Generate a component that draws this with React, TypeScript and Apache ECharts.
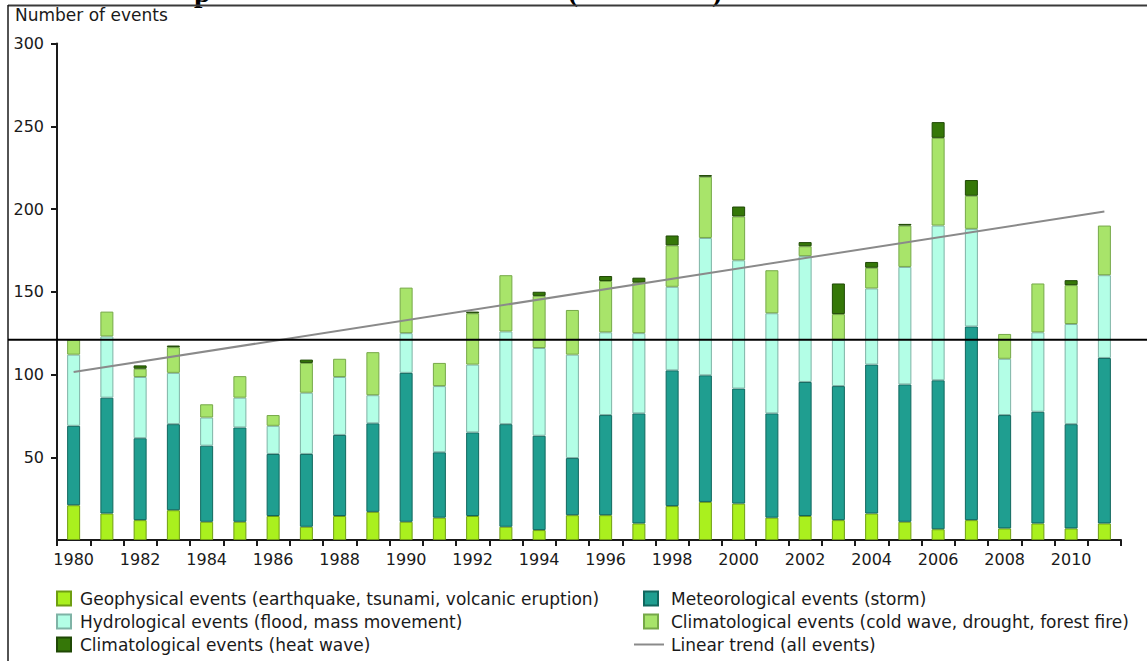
import React, { useEffect, useRef } from "react";
import * as echarts from "echarts";

const years = [
  "1980", "1981", "1982", "1983", "1984", "1985", "1986", "1987", "1988", "1989",
  "1990", "1991", "1992", "1993", "1994", "1995", "1996", "1997", "1998", "1999",
  "2000", "2001", "2002", "2003", "2004", "2005", "2006", "2007", "2008", "2009",
  "2010", "2011",
];

const geophysical = [21, 16, 12, 18, 11, 11, 14.5, 8, 14.5, 17, 11, 13.5, 14.5, 8, 6, 15, 15, 10, 20.5, 23, 22, 13.5, 14.5, 12, 16, 11, 6.5, 12, 7, 10, 7, 10];
const meteorological = [48, 70, 49.5, 52, 46, 57, 37.5, 44, 49, 53.5, 90, 39.5, 50.5, 62, 57, 34.5, 60.5, 66.5, 82, 76.5, 69.5, 63, 81, 81, 90, 83, 90, 117, 68.5, 67.5, 63, 100];
const hydrological = [43, 37, 37, 31, 17, 18, 17, 37, 35, 17, 24, 40, 41, 56, 53, 62.5, 50, 48.5, 50.5, 83, 77.5, 60.5, 76, 28, 46, 71, 93.5, 59, 34, 48, 60.5, 50];
const coldWave = [9, 15, 5, 15.5, 8, 13, 6.5, 18, 11, 26, 27.5, 14, 31, 34, 31.5, 27, 31, 30.5, 25, 37, 26.5, 26, 6, 15.5, 12.5, 25, 53, 20, 15, 29.5, 23.5, 30];
const heatWave = [0, 0, 2, 1, 0, 0, 0, 2, 0, 0, 0, 0, 1, 0, 2.5, 0, 3, 3, 6, 1, 6, 0, 2.5, 18.5, 3.5, 1, 9.5, 9.5, 0, 0, 3, 0];

const trendStartValue = 101.5;
const trendEndValue = 198.5;
const referenceLineValue = 121;

const yMax = 300;
const yInterval = 50;

const seriesNames = [
  "Geophysical events (earthquake, tsunami, volcanic eruption)",
  "Meteorological events (storm)",
  "Hydrological events (flood, mass movement)",
  "Climatological events (cold wave, drought, forest fire)",
  "Climatological events (heat wave)",
  "Linear trend (all events)",
];

const FONT = "DejaVu Sans";

export default function App() {
  const ref = useRef<HTMLDivElement>(null);

  useEffect(() => {
    document.body.style.margin = "0";
    if (!ref.current) return;
    const chart = echarts.init(ref.current, null, { renderer: "svg" });

    const barSeries = (name: string, data: number[], color: string, border: string) => ({
      name,
      type: "bar",
      stack: "total",
      barWidth: 13,
      data: data.map((v) => (v > 0 ? v : null)),
      itemStyle: { color, borderColor: border, borderWidth: 1 },
      emphasis: { disabled: true },
    });

    const mkLegend = (name: string, left: number, top: number, gap: number) => ({
      data: [{ name, icon: "rect" }],
      left,
      top,
      padding: 0,
      itemWidth: 14,
      itemHeight: 14,
      selectedMode: false,
      textStyle: { fontFamily: FONT, fontSize: 17, color: "#1a1a1a", padding: [0, 0, 0, gap] },
    });

    chart.setOption({
      animation: false,
      grid: { left: 57, right: 26, top: 43.5, bottom: 121, containLabel: false },
      legend: [
        mkLegend(seriesNames[0], 56, 590, 4),
        mkLegend(seriesNames[2], 56, 613, 4),
        mkLegend(seriesNames[4], 56, 636, 4),
        mkLegend(seriesNames[1], 643, 590, 8),
        mkLegend(seriesNames[3], 643, 613, 8),
        {
          data: [{ name: seriesNames[5], icon: "rect" }],
          left: 634,
          top: 636,
          padding: 0,
          itemWidth: 30,
          itemHeight: 2,
          selectedMode: false,
          textStyle: { fontFamily: FONT, fontSize: 17, color: "#1a1a1a", padding: [0, 0, 0, 2] },
        },
      ],
      xAxis: {
        type: "category",
        data: years,
        boundaryGap: true,
        axisLine: { show: true, lineStyle: { color: "#1a1a1a", width: 2 } },
        axisTick: { show: true, interval: 0, alignWithLabel: false, length: 6, lineStyle: { color: "#1a1a1a", width: 2 } },
        axisLabel: { interval: 1, margin: 11, fontFamily: FONT, fontSize: 16, color: "#1a1a1a" },
        splitLine: { show: false },
      },
      yAxis: {
        type: "value",
        min: 0,
        max: yMax,
        interval: yInterval,
        axisLine: { show: true, lineStyle: { color: "#1a1a1a", width: 2 } },
        axisTick: { show: true, length: 6, lineStyle: { color: "#1a1a1a", width: 2 } },
        axisLabel: { showMinLabel: false, margin: 13, fontFamily: FONT, fontSize: 16, color: "#1a1a1a" },
        splitLine: { show: false },
      },
      series: [
        barSeries(seriesNames[0], geophysical, "#aaf01e", "#6f9e12"),
        barSeries(seriesNames[1], meteorological, "#1f9e90", "#11675e"),
        barSeries(seriesNames[2], hydrological, "#b3fee6", "#7fb3a6"),
        barSeries(seriesNames[3], coldWave, "#a8e46a", "#76a848"),
        barSeries(seriesNames[4], heatWave, "#357708", "#1f4805"),
        {
          name: seriesNames[5],
          type: "line",
          data: [
            [years[0], trendStartValue],
            [years[years.length - 1], trendEndValue],
          ],
          symbol: "none",
          itemStyle: { color: "#8a8a8a" },
          lineStyle: { color: "#8a8a8a", width: 2 },
          z: 5,
          emphasis: { disabled: true },
        },
      ],
    });

    const refY = chart.convertToPixel({ yAxisIndex: 0 }, referenceLineValue) as number;

    chart.setOption({
      graphic: [
        { type: "line", shape: { x1: 8, y1: 5.5, x2: 1147, y2: 5.5 }, style: { stroke: "#3a3a3a", lineWidth: 2 }, z: 10 },
        { type: "line", shape: { x1: 8, y1: 5, x2: 8, y2: 661 }, style: { stroke: "#1a1a1a", lineWidth: 1.5 }, z: 10 },
        { type: "line", shape: { x1: 8, y1: refY, x2: 1147, y2: refY }, style: { stroke: "#000000", lineWidth: 2 }, z: 20 },
        { type: "text", x: 15, y: 15, style: { text: "Number of events", fontFamily: FONT, fontSize: 17, fill: "#1a1a1a", verticalAlign: "middle" } },
        { type: "text", x: 194, y: 6, style: { text: "p", fontFamily: "Liberation Serif", fontWeight: "bold", fontSize: 30, fill: "#000", verticalAlign: "bottom" } },
        { type: "text", x: 568, y: 5, style: { text: "(", fontFamily: "Liberation Serif", fontWeight: "bold", fontSize: 30, fill: "#000", verticalAlign: "bottom" } },
        { type: "text", x: 712, y: 5, style: { text: ")", fontFamily: "Liberation Serif", fontWeight: "bold", fontSize: 30, fill: "#000", verticalAlign: "bottom" } },
      ],
    });

    return () => chart.dispose();
  }, []);

  return <div ref={ref} style={{ width: 1147, height: 661, background: "#ffffff" }} />;
}
